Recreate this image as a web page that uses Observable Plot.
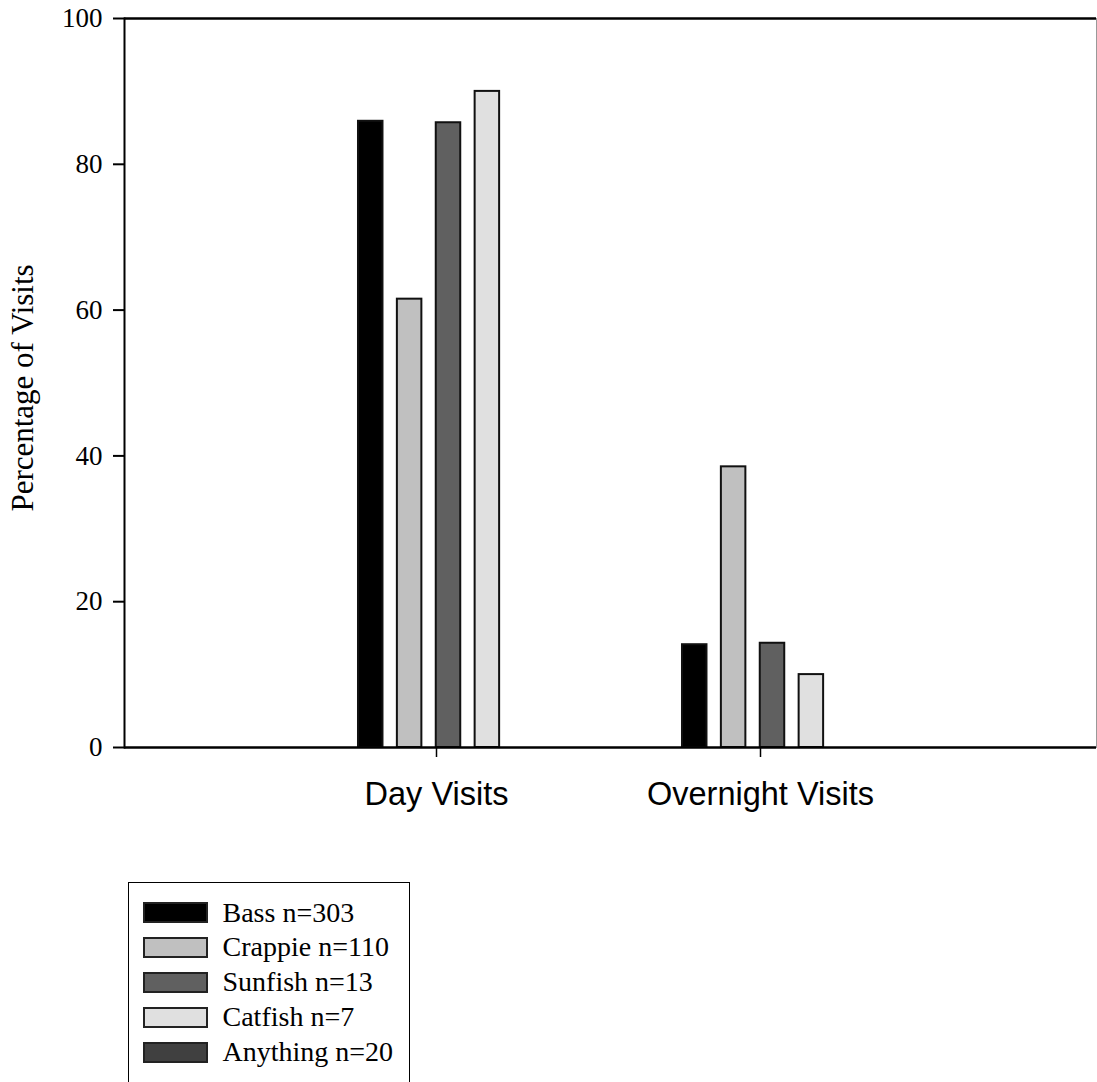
<!DOCTYPE html>
<html>
<head>
<meta charset="utf-8">
<script src="https://cdn.jsdelivr.net/npm/d3@7"></script>
<script src="https://cdn.jsdelivr.net/npm/@observablehq/plot@0.6"></script>
<style>
  body { margin: 0; background: #fff; }
  #chart svg { display: block; }
  .legend {
    margin-left: 128px;
    margin-top: 32px;
    width: 282px;
    height: 215px;
    box-sizing: border-box;
    border: 1.5px solid #000;
    padding: 12.5px 0 0 13.5px;
    font-family: "Liberation Serif", "Times New Roman", serif;
    font-size: 28px;
    color: #000;
  }
  .legend .row { display: flex; align-items: center; height: 34.8px; line-height: 34.8px; }
  .legend .sw { width: 65px; height: 21px; box-sizing: border-box; border: 2px solid #222; margin-right: 15px; }
</style>
</head>
<body>
<div id="chart"></div>
<script>
const visits = ["Day Visits", "Overnight Visits"];
const species = ["Bass", "Crappie", "Sunfish", "Catfish", "Anything"];
const sampleSizes = [303, 110, 13, 7, 20];
const dayValues = [85.9, 61.5, 85.7, 90.0, null];
const overnightValues = [14.1, 38.5, 14.3, 10.0, null];
const fills = ["#000000", "#c0c0c0", "#606060", "#e0e0e0", "#404040"];
const yTicks = [0, 20, 40, 60, 80, 100];
const yLabel = "Percentage of Visits";

// grouped-bar layout in x-scale units (group k sits at x = k + 1)
const barStep = 0.12, barWidth = 0.0756;
const seriesByVisit = [dayValues, overnightValues];
const rows = [];
visits.forEach((v, vi) => {
  species.forEach((s, si) => {
    const value = seriesByVisit[vi][si];
    if (value == null) return;
    const center = vi + 1 + (si - (species.length - 1) / 2) * barStep;
    rows.push({visit: v, species: s, value, x1: center - barWidth / 2, x2: center + barWidth / 2});
  });
});

const plot = Plot.plot({
  width: 1097,
  height: 850,
  marginLeft: 124,
  marginRight: 1,
  marginTop: 18,
  marginBottom: 103,
  style: {background: "white", color: "black", overflow: "visible"},
  x: {domain: [0, visits.length + 1]},
  y: {domain: [0, 100]},
  color: {domain: species, range: fills},
  marks: [
    Plot.frame({stroke: "#999", strokeWidth: 1}),
    Plot.rectY(rows, {
      x1: "x1", x2: "x2", y1: 0, y2: "value", fill: "species",
      stroke: "#111", strokeWidth: 2
    }),
    Plot.frame({anchor: "left", stroke: "#000", strokeWidth: 2}),
    Plot.ruleY([0, 100], {stroke: "#000", strokeWidth: 2.5}),
    Plot.axisY({
      ticks: yTicks, tickSize: 11, tickPadding: 11,
      fontSize: 27, fontFamily: "Liberation Serif", label: null, strokeWidth: 2
    }),
    Plot.text([yLabel], {
      frameAnchor: "left", textAnchor: "middle", rotate: -90, dx: -101, dy: 5,
      fontSize: 31, fontFamily: "Liberation Serif", fill: "#000"
    }),
    Plot.axisX({
      ticks: visits.map((v, i) => i + 1), tickFormat: i => visits[i - 1],
      tickSize: 10, tickPadding: 24, fontSize: 32.5,
      fontFamily: "Liberation Sans", label: null, dx: -12, strokeWidth: 1.5
    })
  ]
});
document.getElementById("chart").appendChild(plot);

// Legend built from the plot's own color scale
const color = plot.scale("color");
const legend = document.createElement("div");
legend.className = "legend";
color.domain.forEach((s, i) => {
  const row = document.createElement("div");
  row.className = "row";
  const sw = document.createElement("div");
  sw.className = "sw";
  sw.style.background = color.range[i];
  const label = document.createElement("span");
  label.textContent = `${s} n=${sampleSizes[species.indexOf(s)]}`;
  row.appendChild(sw);
  row.appendChild(label);
  legend.appendChild(row);
});
document.getElementById("chart").appendChild(legend);
</script>
</body>
</html>
